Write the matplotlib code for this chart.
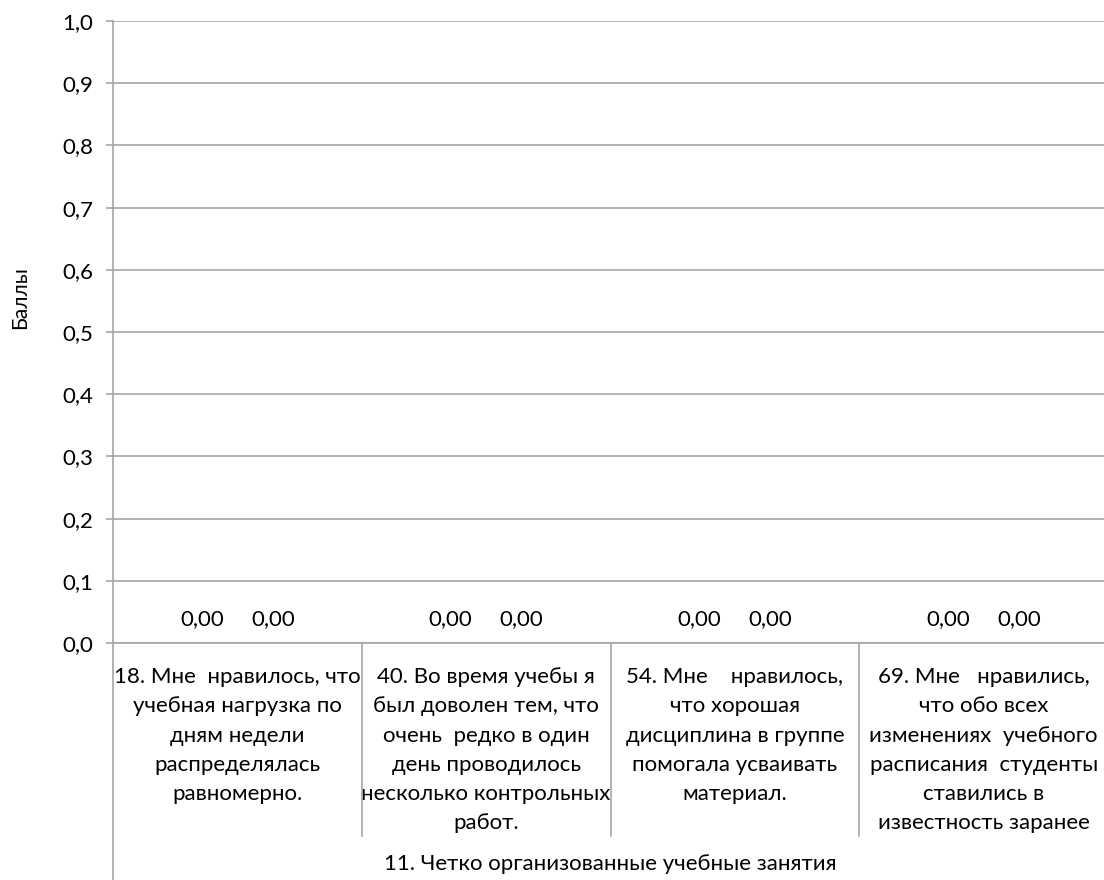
import matplotlib
matplotlib.use('Agg')
import matplotlib.pyplot as plt
from matplotlib.lines import Line2D
from matplotlib.transforms import blended_transform_factory
import numpy as np

plt.rcParams['font.family'] = ['Lato', 'DejaVu Sans']

categories = [
    "18. Мне  нравилось, что\nучебная нагрузка по\nдням недели\nраспределялась\nравномерно.",
    "40. Во время учебы я\nбыл доволен тем, что\nочень  редко в один\nдень проводилось\nнесколько контрольных\nработ.",
    "54. Мне    нравилось,\nчто хорошая\nдисциплина в группе\nпомогала усваивать\nматериал.",
    "69. Мне   нравились,\nчто обо всех\nизменениях  учебного\nрасписания  студенты\nставились в\nизвестность заранее",
]
series_a = [0.0, 0.0, 0.0, 0.0]
series_b = [0.0, 0.0, 0.0, 0.0]
group_label = "11. Четко организованные учебные занятия"
y_label = "Баллы"
y_ticks = [0.0, 0.1, 0.2, 0.3, 0.4, 0.5, 0.6, 0.7, 0.8, 0.9, 1.0]
y_tick_labels = ["0,0", "0,1", "0,2", "0,3", "0,4", "0,5", "0,6", "0,7", "0,8", "0,9", "1,0"]

W, H = 1104, 880
GRID = '#A6A6A6'
FS = 16

fig = plt.figure(figsize=(W / 100, H / 100), dpi=100)
left, right, top, bottom = 113, 1108, 21, 643
ax = fig.add_axes([left / W, (H - bottom) / H, (right - left) / W, (bottom - top) / H])

x = np.arange(len(categories))
off = 0.143
bw = 0.28
b1 = ax.bar(x - off, series_a, width=bw, color='#4F81BD')
b2 = ax.bar(x + off, series_b, width=bw, color='#C0504D')
for bars, vals in ((b1, series_a), (b2, series_b)):
    ax.bar_label(bars, labels=[f"{v:.2f}".replace('.', ',') for v in vals],
                 padding=10, fontsize=FS, color='black')

ax.set_xlim(-0.5, len(categories) - 0.5)
ax.set_ylim(0, 1.0)
ax.set_yticks(y_ticks)
ax.set_yticklabels(y_tick_labels, fontsize=FS)
ax.tick_params(axis='y', length=5, width=1.2, color=GRID, pad=9)
ax.set_xticks(x)
ax.set_xticklabels(categories, fontsize=FS, linespacing=1.57, va='top', ha='center')
ax.tick_params(axis='x', length=0, pad=17.5)

ax.yaxis.grid(True, color=GRID, lw=1.2)
ax.set_axisbelow(True)
for s in ('top', 'right'):
    ax.spines[s].set_visible(False)
for s in ('left', 'bottom'):
    ax.spines[s].set_color(GRID)
    ax.spines[s].set_linewidth(1.2)

ah = bottom - top
trans = blended_transform_factory(ax.transData, ax.transAxes)
for xs in x[:-1] + 0.5:
    ax.add_line(Line2D([xs, xs], [0, -(836 - bottom) / ah], transform=trans,
                       color=GRID, lw=1.2, clip_on=False))
ax.add_line(Line2D([0, 0], [0, -(H - bottom) / ah], transform=ax.transAxes,
                   color=GRID, lw=1.2, clip_on=False))

ax.text(0.5, -(864 - bottom) / ah, group_label, transform=ax.transAxes,
        ha='center', va='center', fontsize=FS)

fig.text(20 / W, 1 - 298 / H, y_label, rotation=90, ha='center', va='center', fontsize=15)

fig.savefig('out.png', dpi=100)
